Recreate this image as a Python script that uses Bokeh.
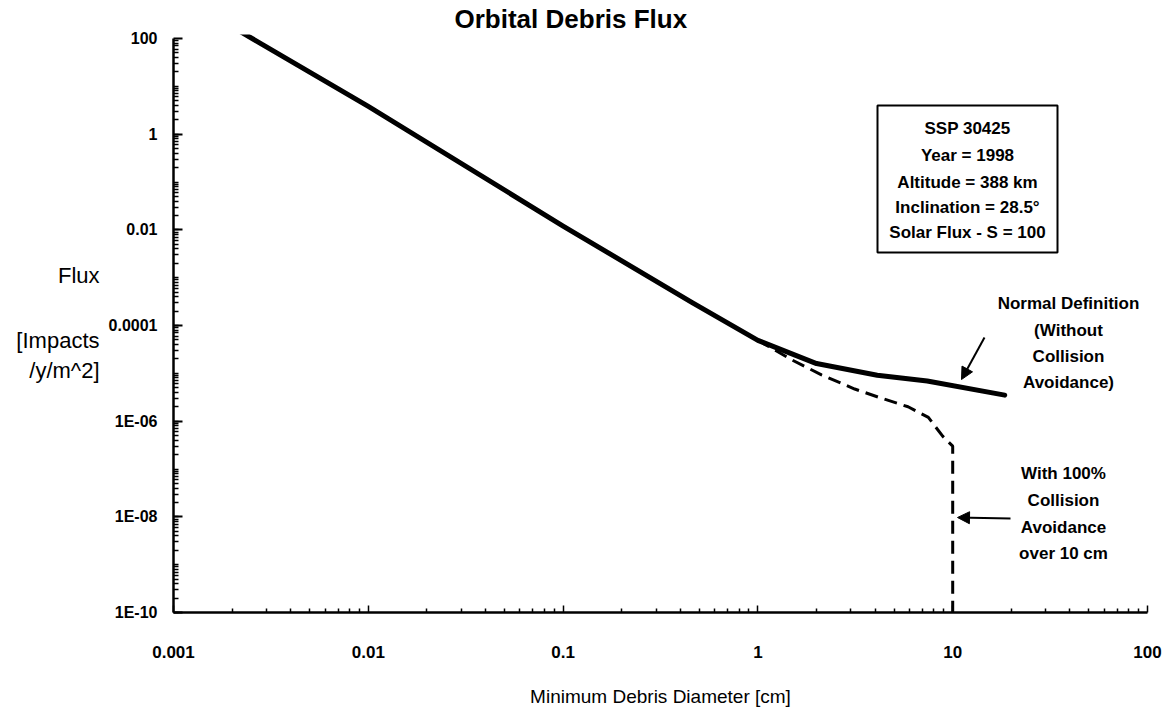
from bokeh.plotting import figure
from bokeh.models import (FixedTicker, CustomJSTickFormatter, Label, Arrow, NormalHead,
                          BoxAnnotation, LogAxis)
from bokeh.embed import file_html
from bokeh.resources import INLINE

# ---------------- data ----------------
normal_d = [0.0022, 0.01, 0.1, 0.46, 1.0, 2.0, 4.1, 7.4, 18.5]
normal_f = [140, 3.8, 0.012, 3.0e-4, 4.9e-5, 1.6e-5, 9.1e-6, 6.9e-6, 3.5e-6]

avoid_d = [1.0, 1.48, 2.12, 3.14, 4.33, 5.9, 7.5, 8.9, 10.0, 10.0]
avoid_f = [4.9e-5, 1.95e-5, 9.3e-6, 4.7e-6, 3.0e-6, 2.0e-6, 1.2e-6, 4.8e-7, 3.0e-7, 1e-10]

x_tick_values = [0.001, 0.01, 0.1, 1, 10, 100]
x_tick_labels = ["0.001", "0.01", "0.1", "1", "10", "100"]
y_tick_values = [1e-10, 1e-8, 1e-6, 1e-4, 1e-2, 1, 100]
y_tick_labels = ["1E-10", "1E-08", "1E-06", "0.0001", "0.01", "1", "100"]

title_text = "Orbital Debris Flux"
x_label = "Minimum Debris Diameter [cm]"
y_label_lines = ["Flux", "[Impacts", "/y/m^2]"]
box_lines = ["SSP 30425", "Year = 1998", "Altitude = 388 km",
             "Inclination = 28.5\u00b0", "Solar Flux - S = 100"]
normal_note = ["Normal Definition", "(Without", "Collision", "Avoidance)"]
avoid_note = ["With 100%", "Collision", "Avoidance", "over 10 cm"]

# ---------------- layout ----------------
W, H = 1175, 724
FL, FR, FT, FB = 173, 1147, 34, 612
XDEC = (FR - FL) / 5.0          # px per decade (0.001 .. 100)
YDEC = (FB - 38) / 12.0         # 1e-10 at FB, 100 at y=38
y_end = 10 ** (2 + (38 - FT) / YDEC)


def dx(px):
    return 10 ** (-3 + (px - FL) / XDEC)


def dy(py):
    return 10 ** (-10 + (FB - py) / YDEC)


FONT = "Liberation Sans"

p = figure(width=W, height=H, x_axis_type="log", y_axis_type="log",
           x_range=(1e-3, 100), y_range=(1e-10, y_end),
           min_border_left=FL, min_border_right=W - FR,
           min_border_top=FT, min_border_bottom=H - FB,
           toolbar_location=None, output_backend="svg", title=title_text)
p.outline_line_color = None
p.xgrid.grid_line_color = None
p.ygrid.grid_line_color = None
p.background_fill_color = "white"
p.border_fill_color = "white"

# title (left-aligned with an offset so it sits where the reference has it)
p.title.align = "left"
p.title.offset = 572 - FL - 118
p.title.text_font = FONT
p.title.text_font_style = "bold"
p.title.text_font_size = "26px"
p.title.text_color = "black"
p.title.standoff = 2

# x axis
x_minor = [k * 10.0 ** n for n in range(-3, 2) for k in range(2, 10)]
p.xaxis.ticker = FixedTicker(ticks=x_tick_values, minor_ticks=x_minor)
p.xaxis.formatter = CustomJSTickFormatter(
    args=dict(vals=x_tick_values, labs=x_tick_labels),
    code="const i = vals.findIndex(v => Math.abs(Math.log10(v) - Math.log10(tick)) < 1e-6);"
         "return i >= 0 ? labs[i] : '';")
p.xaxis.major_tick_in = 7
p.xaxis.major_tick_out = 0
p.xaxis.minor_tick_in = 4
p.xaxis.minor_tick_out = 0
p.xaxis.axis_line_width = 2.5
p.xaxis.major_tick_line_width = 1.5
p.xaxis.minor_tick_line_width = 1.5
p.xaxis.major_label_standoff = 33
p.xaxis.major_label_text_font = FONT
p.xaxis.major_label_text_font_style = "bold"
p.xaxis.major_label_text_font_size = "17px"
p.xaxis.major_label_text_color = "black"
p.xaxis.axis_label = x_label
p.xaxis.axis_label_text_font = FONT
p.xaxis.axis_label_text_font_style = "normal"
p.xaxis.axis_label_text_font_size = "19px"
p.xaxis.axis_label_text_color = "black"
p.xaxis.axis_label_standoff = 25

# y axis
y_minor = [k * 10.0 ** n for n in range(-10, 2) for k in range(1, 10)]
p.yaxis.ticker = FixedTicker(ticks=y_tick_values, minor_ticks=y_minor)
p.yaxis.formatter = CustomJSTickFormatter(
    args=dict(vals=y_tick_values, labs=y_tick_labels),
    code="const i = vals.findIndex(v => Math.abs(Math.log10(v) - Math.log10(tick)) < 1e-6);"
         "return i >= 0 ? labs[i] : '';")
p.yaxis.bounds = (1e-10, 100)
p.yaxis.major_tick_in = 9
p.yaxis.major_tick_out = 0
p.yaxis.minor_tick_in = 5
p.yaxis.minor_tick_out = 0
p.yaxis.axis_line_width = 2.5
p.yaxis.major_tick_line_width = 2
p.yaxis.minor_tick_line_width = 1.5
p.yaxis.major_label_standoff = 16
p.yaxis.major_label_text_font = FONT
p.yaxis.major_label_text_font_style = "bold"
p.yaxis.major_label_text_font_size = "16px"
p.yaxis.major_label_text_color = "black"

# y-axis title: horizontal lines, drawn as the labels of a bare extra axis
ylab_pos = [dy(275), dy(340), dy(370)]
ylab_axis = LogAxis(
    ticker=FixedTicker(ticks=ylab_pos, minor_ticks=[]),
    formatter=CustomJSTickFormatter(
        args=dict(vals=ylab_pos, labs=y_label_lines),
        code="const i = vals.findIndex(v => Math.abs(Math.log10(v) - Math.log10(tick)) < 1e-6);"
             "return i >= 0 ? labs[i] : '';"),
    axis_line_color=None, major_tick_line_color=None, minor_tick_line_color=None,
    major_label_standoff=0, major_label_text_font=FONT,
    major_label_text_font_size="22px", major_label_text_color="black")
p.add_layout(ylab_axis, "left")

# curves
p.line(normal_d, normal_f, line_color="black", line_width=5, line_cap="round",
       line_join="round")
p.line(avoid_d, avoid_f, line_color="black", line_width=3, line_dash="13 7")

# parameter box
p.add_layout(BoxAnnotation(left=dx(877), right=dx(1057), top=dy(105), bottom=dy(252),
                           fill_color="white", fill_alpha=1.0, line_color="black",
                           line_alpha=1.0, line_width=2))
for txt, py in zip(box_lines, [128, 155, 182, 207, 232]):
    p.add_layout(Label(x=dx(967), y=dy(py), text=txt, text_align="center",
                       text_baseline="middle", text_font=FONT, text_font_style="bold",
                       text_font_size="17px", text_color="black"))

# notes
for txt, py in zip(normal_note, [303, 330, 356, 382]):
    p.add_layout(Label(x=dx(1068), y=dy(py), text=txt, text_align="center",
                       text_baseline="middle", text_font=FONT, text_font_style="bold",
                       text_font_size="17px", text_color="black"))
for txt, py in zip(avoid_note, [473, 500, 527, 553]):
    p.add_layout(Label(x=dx(1063), y=dy(py), text=txt, text_align="center",
                       text_baseline="middle", text_font=FONT, text_font_style="bold",
                       text_font_size="17px", text_color="black"))

# arrows
p.add_layout(Arrow(x_start=dx(984), y_start=dy(337), x_end=dx(961), y_end=dy(379),
                   line_color="black", line_width=2,
                   end=NormalHead(size=12, fill_color="black", line_color="black")))
p.add_layout(Arrow(x_start=dx(1010), y_start=dy(518), x_end=dx(957), y_end=dy(517),
                   line_color="black", line_width=2,
                   end=NormalHead(size=12, fill_color="black", line_color="black")))

open("out.html", "w").write(file_html(p, INLINE))
